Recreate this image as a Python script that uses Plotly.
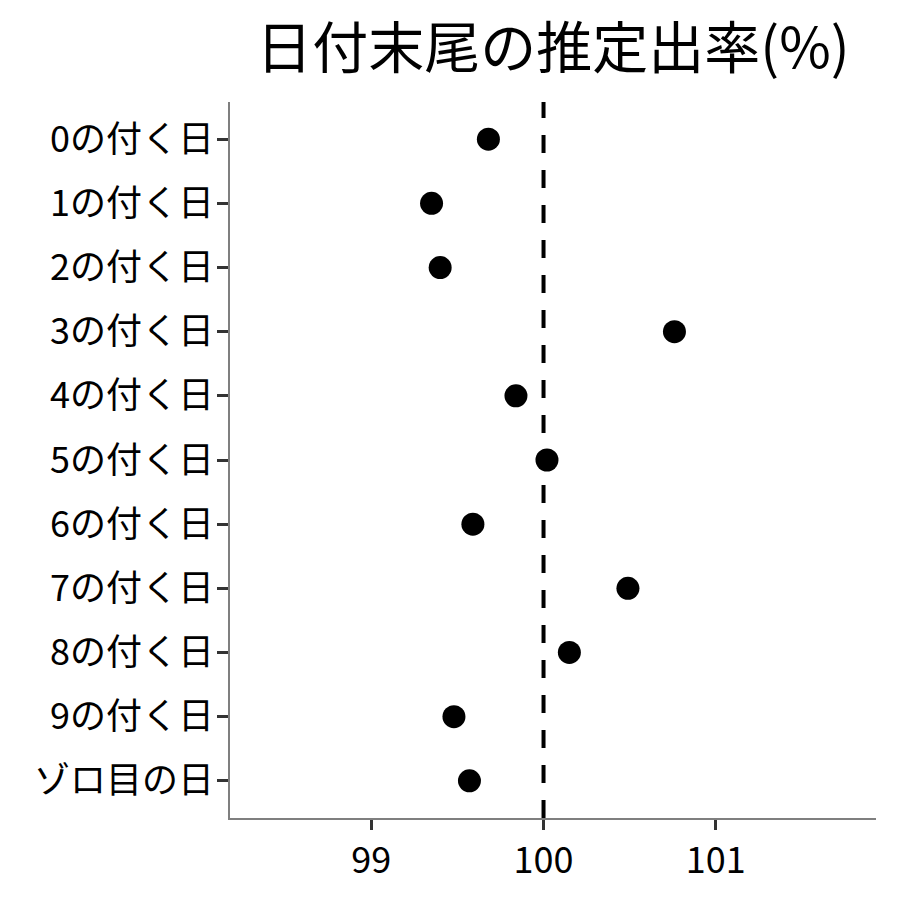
import plotly.graph_objects as go

categories = ["0の付く日", "1の付く日", "2の付く日", "3の付く日", "4の付く日",
              "5の付く日", "6の付く日", "7の付く日", "8の付く日", "9の付く日", "ゾロ目の日"]
values = [99.68, 99.35, 99.40, 100.76, 99.84, 100.02, 99.59, 100.49, 100.15, 99.48, 99.57]
x_ticks = [99, 100, 101]
ref_value = 100

FONT = "Noto Sans CJK JP"

fig = go.Figure()
fig.add_trace(go.Scatter(
    x=values, y=categories, mode="markers",
    marker=dict(color="black", size=23),
    showlegend=False, hoverinfo="x+y",
))

fig.add_shape(type="line", xref="x", yref="paper", x0=ref_value, x1=ref_value, y0=0, y1=1,
              layer="below", line=dict(color="black", width=4, dash="18px,17px"))

fig.update_layout(
    width=900, height=900,
    paper_bgcolor="white", plot_bgcolor="white",
    margin=dict(l=222, r=32, t=94, b=90),
    title=dict(text="日付末尾の推定出率(%)", x=0.5, xref="paper", xanchor="center",
               y=0.955, yref="container", yanchor="middle",
               font=dict(family=FONT, size=56, color="black")),
    font=dict(family=FONT, color="black"),
)
fig.update_xaxes(
    range=[98.18, 101.93], tickvals=x_ticks, ticktext=[str(t) for t in x_ticks],
    showgrid=False, zeroline=False, showline=True, linecolor="#7f7f7f", linewidth=1.5,
    ticks="outside", ticklen=10, tickwidth=3, tickcolor="#333333",
    tickfont=dict(family=FONT, size=36, color="black"),
)
fig.update_yaxes(
    type="category", categoryorder="array", categoryarray=categories,
    range=[10.58, -0.58], showgrid=False, zeroline=False,
    showline=True, linecolor="#7f7f7f", linewidth=1.5,
    ticks="outside", ticklen=11, tickwidth=3, tickcolor="#333333",
    ticklabelstandoff=-4,
    tickfont=dict(family=FONT, size=36, color="black"),
)

fig.write_html("out.html")
